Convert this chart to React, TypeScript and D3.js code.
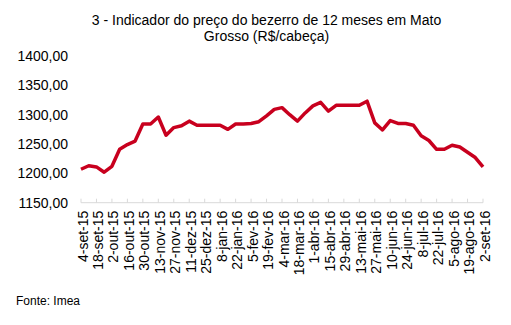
import React from "react";
import * as d3 from "d3";

const labels = ["4-set-15","18-set-15","2-out-15","16-out-15","30-out-15","13-nov-15","27-nov-15","11-dez-15","25-dez-15","8-jan-16","22-jan-16","5-fev-16","19-fev-16","4-mar-16","18-mar-16","1-abr-16","15-abr-16","29-abr-16","13-mai-16","27-mai-16","10-jun-16","24-jun-16","8-jul-16","22-jul-16","5-ago-16","19-ago-16","2-set-16"];
const values = [1207,1213,1211,1202,1212,1241,1249,1255,1284,1284,1296,1265,1278,1281,1289,1282,1282,1282,1282,1275,1284,1284,1285,1288,1298,1309,1312,1300,1289,1303,1315,1321,1306,1316,1316,1316,1316,1323,1286,1274,1290,1285,1285,1282,1264,1256,1241,1241,1248,1245,1236,1227,1211];
const yTicks = [1150,1200,1250,1300,1350,1400];

const W = 511, H = 325;
const fmt = (v: number) => v.toFixed(2).replace(".", ",");

export default function App() {
  const x = d3.scaleLinear().domain([0, values.length - 1]).range([81, 483]);
  const y = d3.scaleLinear().domain([1150, 1400]).range([202.7, 56]);
  const line = d3.line<number>().x((_, i) => x(i)).y(d => y(d));
  const font = "'Liberation Sans', Arial, sans-serif";
  return (
    <svg width={W} height={H} style={{ position: "absolute", left: 0, top: 0, background: "#fff" }} fontFamily={font}>
      <text x={266.5} y={25} textAnchor="middle" fontSize={14} fill="#000">3 - Indicador do preço do bezerro de 12 meses em Mato</text>
      <text x={266.5} y={41} textAnchor="middle" fontSize={14} fill="#000">Grosso (R$/cabeça)</text>
      {yTicks.map(t => (
        <text key={t} x={68} y={y(t)} dy="0.35em" textAnchor="end" fontSize={14} fill="#000">{fmt(t)}</text>
      ))}
      <line x1={x(0)} x2={x(values.length - 1)} y1={y(1150)} y2={y(1150)} stroke="#d9d9d9" strokeWidth={1} />
      {labels.map((l, i) => (
        <g key={l}>
          <line x1={x(i * 2)} x2={x(i * 2)} y1={y(1150)} y2={y(1150) - 4} stroke="#d9d9d9" strokeWidth={1} />
          <text transform={`translate(${x(i * 2) + 6.5},${y(1150) + 8}) rotate(-90)`} textAnchor="end" fontSize={14} fill="#000">{l}</text>
        </g>
      ))}
      <path d={line(values) || ""} fill="none" stroke="#c8001e" strokeWidth={3.5} strokeLinejoin="round" />
      <text x={16} y={305} fontSize={12} fill="#000">Fonte: Imea</text>
    </svg>
  );
}
